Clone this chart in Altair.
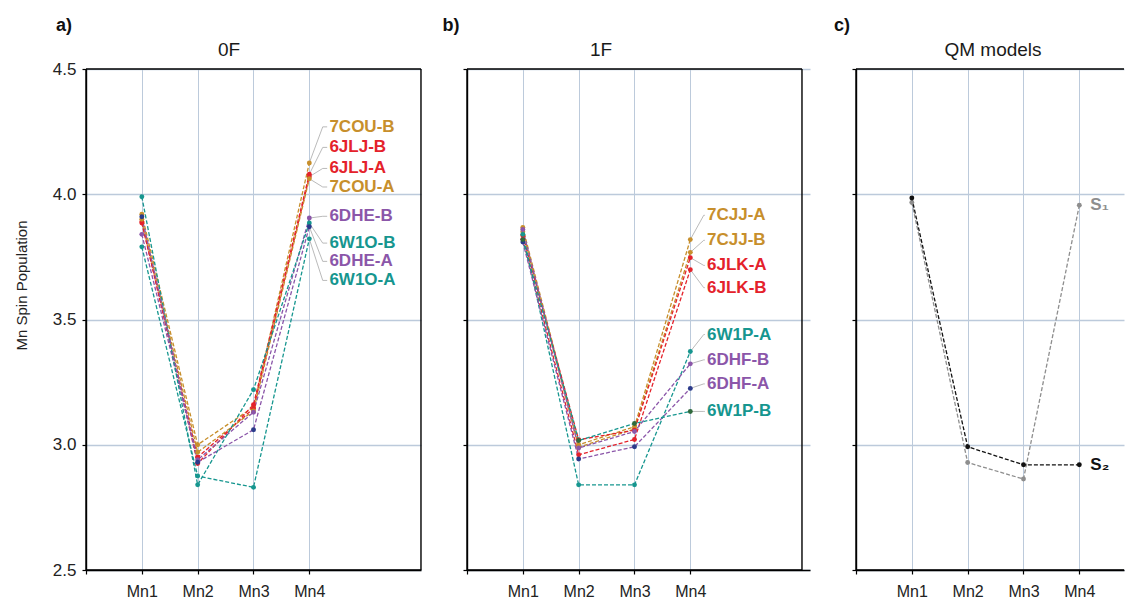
import altair as alt
import pandas as pd

FONT = "Liberation Sans"
GRID = "#bccadb"

sites = ["Mn1", "Mn2", "Mn3", "Mn4"]

GOLD, RED, PURPLE, TEAL = "#c78f2c", "#e4222b", "#8b56a9", "#16968f"
NAVY, DGREEN = "#2b3a8a", "#2f6a3c"

# ---- panel a: 0F ----
a_names = ["7COU-B", "6JLJ-B", "6JLJ-A", "7COU-A", "6DHE-B", "6W1O-B", "6DHE-A", "6W1O-A"]
a_values = [
    [3.92, 3.00, 3.15, 4.125],
    [3.89, 2.925, 3.16, 4.08],
    [3.885, 2.95, 3.145, 4.07],
    [3.90, 2.97, 3.135, 4.062],
    [3.84, 2.94, 3.13, 3.905],
    [3.99, 2.84, 3.22, 3.885],
    [3.91, 2.93, 3.06, 3.87],
    [3.79, 2.875, 2.83, 3.822],
]
a_line_colors = [GOLD, RED, RED, GOLD, PURPLE, TEAL, PURPLE, TEAL]
a_point_colors = [GOLD, RED, RED, GOLD, PURPLE, TEAL, NAVY, TEAL]
a_label_y = [4.269, 4.187, 4.103, 4.029, 3.912, 3.805, 3.732, 3.656]

# ---- panel b: 1F ----
b_names = ["7CJJ-A", "7CJJ-B", "6JLK-A", "6JLK-B", "6W1P-A", "6DHF-B", "6DHF-A", "6W1P-B"]
b_values = [
    [3.867, 3.00, 3.072, 3.819],
    [3.85, 2.99, 3.063, 3.768],
    [3.835, 3.02, 3.058, 3.747],
    [3.82, 2.96, 3.021, 3.699],
    [3.84, 2.84, 2.84, 3.372],
    [3.859, 2.987, 3.053, 3.323],
    [3.809, 2.943, 2.992, 3.225],
    [3.819, 3.017, 3.085, 3.133],
]
b_line_colors = [GOLD, GOLD, RED, RED, TEAL, PURPLE, PURPLE, TEAL]
b_point_colors = [GOLD, GOLD, RED, RED, TEAL, PURPLE, NAVY, DGREEN]
b_label_y = [3.916, 3.816, 3.716, 3.627, 3.44, 3.339, 3.243, 3.133]

# ---- panel c: QM models ----
c_names = ["S₁", "S₂"]
c_values = [
    [3.967, 2.929, 2.863, 3.956],
    [3.985, 2.992, 2.92, 2.92],
]
c_colors = ["#8e8e8e", "#111111"]

UNIT = 55.83  # pixels per site step


def long_df(names, values):
    rows = []
    for n, vals in zip(names, values):
        for i, v in enumerate(vals):
            rows.append({"series": n, "x": i + 1, "v": v})
    return pd.DataFrame(rows)


def panel(names, values, line_colors, point_colors, width, border_right, letter, letter_dx,
          title, title_px, show_y_labels, label_y=None, label_x=4.33, s_labels=False):
    xmax = width / UNIT
    X = alt.X("x:Q", scale=alt.Scale(domain=[0, xmax], nice=False, zero=False),
              axis=alt.Axis(values=[0, 1, 2, 3, 4],
                            labelExpr="datum.value == 0 ? '' : 'Mn' + datum.value",
                            grid=True, gridColor=GRID, gridWidth=1,
                            domainColor="black", domainWidth=1.4,
                            tickColor="black", tickSize=4, tickWidth=1.2,
                            labelFont=FONT, labelFontSize=16, labelColor="#222",
                            labelPadding=9, title=None))
    yaxis = dict(values=[2.5, 3.0, 3.5, 4.0, 4.5], format=".1f", labels=show_y_labels,
                 grid=True, gridColor=GRID, gridWidth=1.6,
                 domainColor="black", domainWidth=1.4,
                 tickColor="black", tickSize=4, tickWidth=1.2,
                 labelFont=FONT, labelFontSize=17, labelColor="#222", labelPadding=6)
    if show_y_labels:
        yaxis.update(title="Mn Spin Population", titleFont=FONT, titleFontSize=15,
                     titleFontWeight="normal", titleColor="#222", titleAngle=270,
                     titleX=-65, titleY=216, titleAlign="center", titleBaseline="middle")
    else:
        yaxis.update(title=None)
    Y = alt.Y("v:Q", scale=alt.Scale(domain=[2.5, 4.5], nice=False, zero=False),
              axis=alt.Axis(**yaxis))

    df = long_df(names, values)
    layers = []

    # leader lines
    if label_y is not None:
        rows = []
        for n, vals, ly in zip(names, values, label_y):
            rows.append({"series": n, "x": 4.0, "v": vals[3], "k": 0})
            rows.append({"series": n, "x": 4.24, "v": ly, "k": 1})
            rows.append({"series": n, "x": label_x - 0.04, "v": ly, "k": 2})
        ldf = pd.DataFrame(rows)
        layers.append(alt.Chart(ldf).mark_line(color="#a8a8a8", strokeWidth=0.8).encode(
            x=X, y=Y, detail="series:N", order="k:Q"))

    lines = alt.Chart(df).mark_line(strokeDash=[4, 2], strokeWidth=1.3).encode(
        x=X, y=Y, detail="series:N",
        stroke=alt.Stroke("series:N", scale=alt.Scale(domain=names, range=line_colors), legend=None))
    points = alt.Chart(df).mark_circle(size=24, opacity=1).encode(
        x=X, y=Y,
        fill=alt.Fill("series:N", scale=alt.Scale(domain=names, range=point_colors), legend=None))
    layers += [lines, points]

    if label_y is not None:
        tdf = pd.DataFrame({"series": names, "v": label_y})
        layers.append(alt.Chart(tdf).mark_text(
            align="left", baseline="middle", font=FONT, fontSize=17, fontWeight="bold").encode(
            x=alt.datum(label_x), y=Y, text="series:N",
            color=alt.Color("series:N", scale=alt.Scale(domain=names, range=line_colors), legend=None)))

    if s_labels:
        sdf = pd.DataFrame({"series": names, "x": [4, 4], "v": [vals[3] for vals in values]})
        layers.append(alt.Chart(sdf).mark_text(
            align="left", baseline="middle", dx=11, font=FONT, fontSize=17, fontWeight="bold").encode(
            x=X, y=Y, text="series:N",
            color=alt.Color("series:N", scale=alt.Scale(domain=names, range=line_colors), legend=None)))

    # frame
    brows = [
        {"x": 0, "v": 4.5, "x2": xmax if not border_right else 6, "v2": 4.5},
        {"x": 0, "v": 2.5, "x2": xmax if not border_right else 6, "v2": 2.5},
        {"x": 0, "v": 2.5, "x2": 0, "v2": 4.5},
    ]
    if border_right:
        brows.append({"x": 6, "v": 2.5, "x2": 6, "v2": 4.5})
    layers.append(alt.Chart(pd.DataFrame(brows)).mark_rule(color="black", strokeWidth=1.4).encode(
        x=X, y=Y, x2="x2:Q", y2="v2:Q"))

    # panel title and letter
    layers.append(alt.Chart(pd.DataFrame({"t": [title]})).mark_text(
        align="center", baseline="middle", font=FONT, fontSize=19, color="#1a1a1a").encode(
        x=alt.value(title_px), y=alt.value(-19.5), text="t:N"))
    layers.append(alt.Chart(pd.DataFrame({"t": [letter]})).mark_text(
        align="center", baseline="middle", font=FONT, fontSize=18, fontWeight="bold",
        color="#111").encode(x=alt.value(letter_dx), y=alt.value(-43), text="t:N"))

    return alt.layer(*layers).properties(width=width, height=501)


pa = panel(a_names, a_values, a_line_colors, a_point_colors, 335, True, "a)", -22,
           "0F", 143, True, label_y=a_label_y, label_x=4.36)
pb = panel(b_names, b_values, b_line_colors, b_point_colors, 343, True, "b)", -16,
           "1F", 134, False, label_y=b_label_y, label_x=4.30)
pc = panel(c_names, c_values, c_colors, c_colors, 268, False, "c)", -14,
           "QM models", 137, False, s_labels=True)

chart = alt.hconcat(pa, pb, pc, spacing=46, bounds="flush").resolve_scale(
    color="independent", fill="independent", stroke="independent"
).properties(
    padding={"left": 14, "top": 17, "right": 0, "bottom": 0},
    background="white",
).configure_view(stroke=None)

chart.save("out.html", embed_options={"renderer": "svg", "actions": False})
